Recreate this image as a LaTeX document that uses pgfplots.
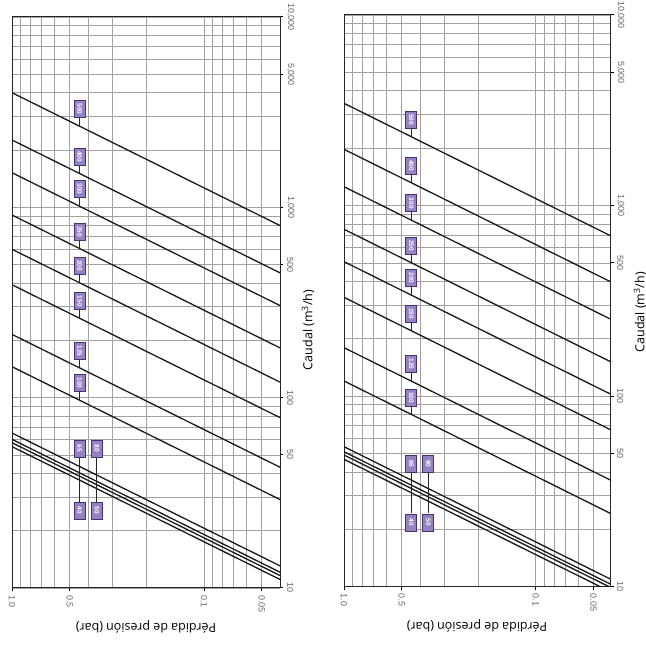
\documentclass[border=0pt]{standalone}
\usepackage{fontspec}
\setmainfont{Open Sans}
\newfontfamily\tickfont{Liberation Sans}
\usepackage{pgfplots}
\pgfplotsset{compat=1.18}
\definecolor{gridc}{gray}{0.63}
\definecolor{boxfill}{RGB}{150,130,195}
\definecolor{boxdraw}{RGB}{70,50,110}
\tikzset{
 myln/.style={black!90,line width=1.3pt},
 lbl/.style={rotate=-90,fill=boxfill,draw=boxdraw,line width=0.9pt,text=white,
   minimum width=17pt,minimum height=11pt,inner sep=0pt,
   font=\tickfont\fontsize{6.5}{6.5}\selectfont\bfseries},
 conn/.style={black!85,line width=1pt},
}
\begin{document}
\begin{tikzpicture}
\path[use as bounding box] (0,0) rectangle (646pt,646pt);
% ---------------- left panel ----------------
\begin{loglogaxis}[x dir=reverse, scale only axis, anchor=south west,
  at={(12pt,58pt)}, width=268pt, height=571pt, xmin=0.0402,
  xmax=1, ymin=10, ymax=10000,
  xtick={1,0.5,0.1,0.05}, xticklabels={1.0,0.5,0.1,0.05},
  ytick={10,50,100,500,1000,5000,10000},
  yticklabels={10,50,100,500,{1,000},{5,000},{10,000}},
  minor xtick={0.05,0.06,0.07,0.08,0.09,0.1,0.2,0.3,0.4,0.5,0.6,0.7,0.8,0.9},
  minor ytick={20,30,40,50,60,70,80,90,200,300,400,500,600,700,800,900,2000,3000,4000,5000,6000,7000,8000,9000},
  grid=both,
  major grid style={gridc,line width=0.8pt},
  minor grid style={gridc,line width=0.8pt},
  minor tick length=0pt, major tick length=3.5pt, tick align=outside,
  xtick pos=left, ytick pos=right, yticklabel pos=right,
  tick style={black,line width=1pt},
  axis line style={black!85,line width=1pt},
  xticklabel style={rotate=-90,anchor=west,font=\tickfont\fontsize{9}{10}\selectfont,text=black!60},
  yticklabel style={rotate=-90,anchor=south,font=\tickfont\fontsize{9}{10}\selectfont,text=black!60},
  xlabel={Pérdida de presión (bar)},
  ylabel={Caudal (m\textsuperscript{3}/h)},
  label style={font=\fontsize{12.5}{14}\selectfont},
  xlabel style={at={(axis description cs:0.5,-0.0683)},anchor=center,rotate=180},
  ylabel style={at={(axis description cs:1.1045,0.452)},anchor=center}]
\addplot[myln] coordinates {(1,4002) (0.04,800.4)};
\addplot[myln] coordinates {(1,2258) (0.04,451.6)};
\addplot[myln] coordinates {(1,1520) (0.04,304)};
\addplot[myln] coordinates {(1,911) (0.04,182.2)};
\addplot[myln] coordinates {(1,602) (0.04,120.4)};
\addplot[myln] coordinates {(1,392) (0.04,78.4)};
\addplot[myln] coordinates {(1,215) (0.04,43)};
\addplot[myln] coordinates {(1,145.4) (0.04,29.08)};
\addplot[myln] coordinates {(1,65.2) (0.04,13.04)};
\addplot[myln] coordinates {(1,60.4) (0.04,12.08)};
\addplot[myln] coordinates {(1,58.0) (0.04,11.6)};
\addplot[myln] coordinates {(1,55.3) (0.04,11.06)};
\draw[conn] (axis cs:0.445,2669.7) -- ++(0pt,8.5pt);
\draw[conn] (axis cs:0.445,1506.3) -- ++(0pt,8.5pt);
\draw[conn] (axis cs:0.445,1014.0) -- ++(0pt,8.5pt);
\draw[conn] (axis cs:0.445,607.7) -- ++(0pt,8.5pt);
\draw[conn] (axis cs:0.445,401.6) -- ++(0pt,8.5pt);
\draw[conn] (axis cs:0.445,261.5) -- ++(0pt,8.5pt);
\draw[conn] (axis cs:0.445,143.4) -- ++(0pt,8.5pt);
\draw[conn] (axis cs:0.445,97.0) -- ++(0pt,8.5pt);
\draw[conn] (axis cs:0.445,48.8) -- (axis cs:0.445,28.3);
\draw[conn] (axis cs:0.361,48.8) -- (axis cs:0.361,28.3);
\node[lbl] at ([yshift=17pt]axis cs:0.445,2669.7) {500};
\node[lbl] at ([yshift=17pt]axis cs:0.445,1506.3) {400};
\node[lbl] at ([yshift=17pt]axis cs:0.445,1014.0) {300};
\node[lbl] at ([yshift=17pt]axis cs:0.445,607.7) {250};
\node[lbl] at ([yshift=17pt]axis cs:0.445,401.6) {200};
\node[lbl] at ([yshift=17pt]axis cs:0.445,261.5) {150};
\node[lbl] at ([yshift=17pt]axis cs:0.445,143.4) {125};
\node[lbl] at ([yshift=17pt]axis cs:0.445,97.0) {100};
\node[lbl] at (axis cs:0.445,54.06) {65};
\node[lbl] at (axis cs:0.361,54.06) {80};
\node[lbl] at (axis cs:0.445,25.53) {40};
\node[lbl] at (axis cs:0.361,25.53) {50};
\end{loglogaxis}
% ---------------- right panel ----------------
\begin{loglogaxis}[x dir=reverse, scale only axis, anchor=south west,
  at={(344pt,59.3pt)}, width=266pt, height=571.7pt, xmin=0.041,
  xmax=1, ymin=10, ymax=10000,
  xtick={1,0.5,0.1,0.05}, xticklabels={1.0,0.5,0.1,0.05},
  ytick={10,50,100,500,1000,5000,10000},
  yticklabels={10,50,100,500,{1,000},{5,000},{10,000}},
  minor xtick={0.05,0.06,0.07,0.08,0.09,0.1,0.2,0.3,0.4,0.5,0.6,0.7,0.8,0.9},
  minor ytick={20,30,40,50,60,70,80,90,200,300,400,500,600,700,800,900,2000,3000,4000,5000,6000,7000,8000,9000},
  grid=both,
  major grid style={gridc,line width=0.8pt},
  minor grid style={gridc,line width=0.8pt},
  minor tick length=0pt, major tick length=3.5pt, tick align=outside,
  xtick pos=left, ytick pos=right, yticklabel pos=right,
  tick style={black,line width=1pt},
  axis line style={black!85,line width=1pt},
  xticklabel style={rotate=-90,anchor=west,font=\tickfont\fontsize{9}{10}\selectfont,text=black!60},
  yticklabel style={rotate=-90,anchor=south,font=\tickfont\fontsize{9}{10}\selectfont,text=black!60},
  xlabel={Pérdida de presión (bar)},
  ylabel={Caudal (m\textsuperscript{3}/h)},
  label style={font=\fontsize{12.5}{14}\selectfont},
  xlabel style={at={(axis description cs:0.5,-0.0682)},anchor=center,rotate=180},
  ylabel style={at={(axis description cs:1.1128,0.48)},anchor=center}]
\addplot[myln] coordinates {(1,3441) (0.04,688.2)};
\addplot[myln] coordinates {(1,1974) (0.04,394.8)};
\addplot[myln] coordinates {(1,1256) (0.04,251.2)};
\addplot[myln] coordinates {(1,751) (0.04,150.2)};
\addplot[myln] coordinates {(1,507.7) (0.04,101.54)};
\addplot[myln] coordinates {(1,330.1) (0.04,66.02)};
\addplot[myln] coordinates {(1,179.6) (0.04,35.92)};
\addplot[myln] coordinates {(1,120.1) (0.04,24.02)};
\addplot[myln] coordinates {(1,54.3) (0.04,10.86)};
\addplot[myln] coordinates {(1,51.1) (0.04,10.22)};
\addplot[myln] coordinates {(1,49.1) (0.04,9.82)};
\addplot[myln] coordinates {(1,46.6) (0.04,9.32)};
\draw[conn] (axis cs:0.445,2295.5) -- ++(0pt,8.5pt);
\draw[conn] (axis cs:0.445,1316.9) -- ++(0pt,8.5pt);
\draw[conn] (axis cs:0.445,837.9) -- ++(0pt,8.5pt);
\draw[conn] (axis cs:0.445,501.0) -- ++(0pt,8.5pt);
\draw[conn] (axis cs:0.445,338.7) -- ++(0pt,8.5pt);
\draw[conn] (axis cs:0.445,220.2) -- ++(0pt,8.5pt);
\draw[conn] (axis cs:0.445,119.8) -- ++(0pt,8.5pt);
\draw[conn] (axis cs:0.445,80.12) -- ++(0pt,8.5pt);
\draw[conn] (axis cs:0.445,39.5) -- (axis cs:0.445,24.4);
\draw[conn] (axis cs:0.363,39.5) -- (axis cs:0.363,24.4);
\node[lbl] at ([yshift=17pt]axis cs:0.445,2295.5) {500};
\node[lbl] at ([yshift=17pt]axis cs:0.445,1316.9) {400};
\node[lbl] at ([yshift=17pt]axis cs:0.445,837.9) {300};
\node[lbl] at ([yshift=17pt]axis cs:0.445,501.0) {250};
\node[lbl] at ([yshift=17pt]axis cs:0.445,338.7) {200};
\node[lbl] at ([yshift=17pt]axis cs:0.445,220.2) {150};
\node[lbl] at ([yshift=17pt]axis cs:0.445,119.8) {125};
\node[lbl] at ([yshift=17pt]axis cs:0.445,80.12) {100};
\node[lbl] at (axis cs:0.445,44.05) {65};
\node[lbl] at (axis cs:0.363,44.05) {80};
\node[lbl] at (axis cs:0.445,21.7) {40};
\node[lbl] at (axis cs:0.363,21.7) {50};
\end{loglogaxis}
\end{tikzpicture}
\end{document}
